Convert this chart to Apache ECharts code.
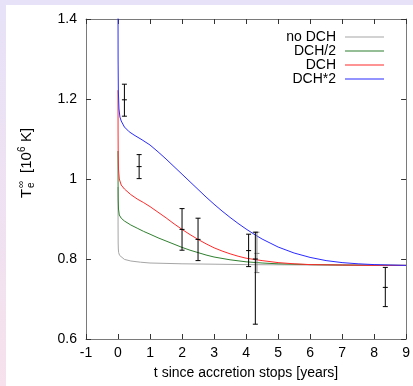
<!DOCTYPE html>
<html><head><meta charset="utf-8">
<script src="https://cdn.jsdelivr.net/npm/echarts@6/dist/echarts.min.js"></script>
<style>html,body{margin:0;padding:0;background:#fff}#c{width:413px;height:386px;}</style>
</head><body><div id="c"></div>
<script>
// ---- data ----
const xTickLabels = ['-1','0','1','2','3','4','5','6','7','8','9'];
const yTickLabels = ['0.6','0.8','1','1.2','1.4'];
const seriesNames = ['no DCH','DCH/2','DCH','DCH*2'];

const tNoDCH = [0, 0.002, 0.005, 0.01, 0.02, 0.05, 0.1, 0.2, 0.4, 0.7, 1.0, 1.5, 2.0, 3.0, 4.0, 6.0, 9.0];
const vNoDCH = [0.98, 0.88, 0.84, 0.825, 0.816, 0.809, 0.804, 0.799, 0.795, 0.792, 0.790, 0.789, 0.788, 0.787, 0.786, 0.785, 0.784];

const tHalf = [0, 0.002, 0.006, 0.015, 0.04, 0.1, 0.2, 0.4, 0.6, 0.8, 1.0, 1.25, 1.5, 1.75, 2.0, 2.25, 2.5, 2.75, 3.0, 3.5, 4.0, 4.5, 5.0, 6.0, 7.0, 9.0];
const vHalf = [1.07, 0.99, 0.95, 0.925, 0.91, 0.902, 0.895, 0.885, 0.877, 0.869, 0.862, 0.853, 0.845, 0.837, 0.829, 0.822, 0.816, 0.810, 0.805, 0.798, 0.793, 0.790, 0.788, 0.786, 0.785, 0.784];

const tDCH = [0, 0.002, 0.006, 0.015, 0.04, 0.1, 0.2, 0.4, 0.6, 0.8, 1.0, 1.25, 1.5, 1.75, 2.0, 2.25, 2.5, 2.75, 3.0, 3.25, 3.5, 3.75, 4.0, 4.5, 5.0, 5.5, 6.0, 7.0, 8.0, 9.0];
const vDCH = [1.222, 1.12, 1.06, 1.025, 1.0, 0.985, 0.975, 0.961, 0.95, 0.941, 0.931, 0.917, 0.903, 0.888, 0.874, 0.861, 0.849, 0.838, 0.828, 0.820, 0.813, 0.807, 0.802, 0.796, 0.791, 0.788, 0.786, 0.785, 0.784, 0.784];

const tDouble = [0, 0.003, 0.01, 0.03, 0.06, 0.1, 0.2, 0.35, 0.5, 0.75, 1.0, 1.25, 1.5, 1.75, 2.0, 2.25, 2.5, 2.75, 3.0, 3.25, 3.5, 3.75, 4.0, 4.25, 4.5, 4.75, 5.0, 5.5, 6.0, 6.5, 7.0, 7.5, 8.0, 8.5, 9.0];
const vDouble = [1.45, 1.30, 1.22, 1.175, 1.155, 1.145, 1.13, 1.118, 1.11, 1.098, 1.085, 1.068, 1.05, 1.031, 1.012, 0.993, 0.974, 0.955, 0.937, 0.92, 0.904, 0.889, 0.875, 0.862, 0.85, 0.84, 0.83, 0.815, 0.804, 0.796, 0.791, 0.788, 0.786, 0.785, 0.784];

const obsT  = [0.2,   0.66,  2.0,   2.5,   4.08,  4.29,  8.35];
const obsV  = [1.198, 1.031, 0.874, 0.849, 0.821, 0.80,  0.729];
const obsLo = [1.157, 1.001, 0.822, 0.796, 0.781, 0.637, 0.681];
const obsHi = [1.237, 1.061, 0.926, 0.902, 0.862, 0.867, 0.779];

const obs2T  = [4.34];
const obs2V  = [0.814];
const obs2Lo = [0.766];
const obs2Hi = [0.867];

// ---- build ----
const FONT = 'Liberation Sans, Arial, Helvetica, sans-serif';
const zip = (t, v) => t.map((x, i) => [x, v[i]]);
const colors = ['#a6a6a6', '#2f7f2f', '#ff2a2a', '#2a2aff'];
const curves = [zip(tNoDCH, vNoDCH), zip(tHalf, vHalf), zip(tDCH, vDCH), zip(tDouble, vDouble)];

function errRender(color) {
  return function (params, api) {
    const t = api.value(0);
    const c = api.coord([t, api.value(1)]);
    const lo = api.coord([t, api.value(2)]);
    const hi = api.coord([t, api.value(3)]);
    const w = 2.5;
    const st = { stroke: color, lineWidth: 1 };
    return {
      type: 'group',
      children: [
        { type: 'line', shape: { x1: c[0], y1: lo[1], x2: c[0], y2: hi[1] }, style: st },
        { type: 'line', shape: { x1: c[0] - w, y1: lo[1], x2: c[0] + w, y2: lo[1] }, style: st },
        { type: 'line', shape: { x1: c[0] - w, y1: hi[1], x2: c[0] + w, y2: hi[1] }, style: st },
        { type: 'line', shape: { x1: c[0] - w, y1: c[1], x2: c[0] + w, y2: c[1] }, style: st }
      ]
    };
  };
}

const chart = echarts.init(document.getElementById('c'), null, { renderer: 'canvas' });
const axisLineStyle = { color: '#7a7a7a', width: 1 };
const tickStyle = { color: '#333', width: 1 };
const tstyle = (txt, size) => ({ text: txt, font: size + 'px ' + FONT, fill: '#000', textAlign: 'left', textVerticalAlign: 'middle', verticalAlign: 'middle' });

const option = {
  animation: false,
  backgroundColor: 'transparent',
  textStyle: { fontFamily: FONT },
  graphic: [
    { type: 'rect', z: -100, silent: true, shape: { x: 0, y: 0, width: 413, height: 386 },
      style: { fill: new echarts.graphic.LinearGradient(0, 0, 0, 1, [
        { offset: 0, color: '#e7e2f8' }, { offset: 1, color: '#f6e1ec' }]) } },
    { type: 'rect', z: -99, silent: true, shape: { x: 6, y: 5, width: 407, height: 381 },
      style: { fill: '#ffffff' } },
    { type: 'group', x: 27, y: 198, rotation: Math.PI / 2, children: [
      { type: 'text', x: 0, y: 0, style: tstyle('T', 15) },
      { type: 'text', x: 10, y: 4.5, style: tstyle('e', 10) },
      { type: 'text', x: 10, y: -6, style: tstyle('∞', 10) },
      { type: 'text', x: 25, y: 0, style: tstyle('[10', 15) },
      { type: 'text', x: 46, y: -5, style: tstyle('6', 10) },
      { type: 'text', x: 56, y: 0, style: tstyle('K]', 15) }
    ] }
  ],
  legend: {
    orient: 'vertical', align: 'right', right: 24, top: 25,
    itemWidth: 39, itemHeight: 14, itemGap: 0,
    icon: 'path://M0,7L39,7L39,8L0,8Z',
    textStyle: { fontSize: 14, color: '#000', fontFamily: FONT, lineHeight: 14, padding: [0, 4, 0, 0] },
    data: seriesNames
  },
  grid: { left: 86, right: 6, top: 19, bottom: 47, containLabel: false },
  xAxis: [
    { type: 'value', min: -1, max: 9, interval: 1, position: 'bottom',
      axisLine: { show: true, onZero: false, lineStyle: axisLineStyle }, axisTick: { show: true, inside: true, length: 5, lineStyle: tickStyle },
      splitLine: { show: false },
      axisLabel: { fontSize: 14, color: '#000', margin: 7, fontFamily: FONT, formatter: (v) => xTickLabels[Math.round(v) + 1] },
      name: 't since accretion stops [years]', nameLocation: 'middle', nameGap: 27,
      nameTextStyle: { fontSize: 14, color: '#000', fontFamily: FONT } },
    { type: 'value', min: -1, max: 9, interval: 1, position: 'top',
      axisLine: { show: true, onZero: false, lineStyle: axisLineStyle }, axisTick: { show: true, inside: true, length: 5, lineStyle: tickStyle },
      splitLine: { show: false }, axisLabel: { show: false } }
  ],
  yAxis: [
    { type: 'value', min: 0.6, max: 1.4, interval: 0.2, position: 'left',
      axisLine: { show: true, onZero: false, lineStyle: axisLineStyle }, axisTick: { show: true, inside: true, length: 5, lineStyle: tickStyle },
      splitLine: { show: false },
      axisLabel: { fontSize: 14, color: '#000', margin: 9, fontFamily: FONT, formatter: (v) => yTickLabels[Math.round((v - 0.6) / 0.2)] } },
    { type: 'value', min: 0.6, max: 1.4, interval: 0.2, position: 'right',
      axisLine: { show: true, onZero: false, lineStyle: axisLineStyle }, axisTick: { show: true, inside: true, length: 5, lineStyle: tickStyle },
      splitLine: { show: false }, axisLabel: { show: false } }
  ],
  series: seriesNames.map((n, i) => ({
    name: n, type: 'line', data: curves[i], showSymbol: false, symbol: 'none',
    smooth: false, clip: true, z: 3 + i,
    lineStyle: { color: colors[i], width: 1 }, itemStyle: { color: colors[i] }
  })).concat([
    { name: 'obs', type: 'custom', z: 10, renderItem: errRender('#000'),
      data: obsT.map((t, i) => [t, obsV[i], obsLo[i], obsHi[i]]) },
    { name: 'obs2', type: 'custom', z: 9, renderItem: errRender('#808080'),
      data: obs2T.map((t, i) => [t, obs2V[i], obs2Lo[i], obs2Hi[i]]) }
  ])
};
chart.setOption(option);
</script>
</body></html>
